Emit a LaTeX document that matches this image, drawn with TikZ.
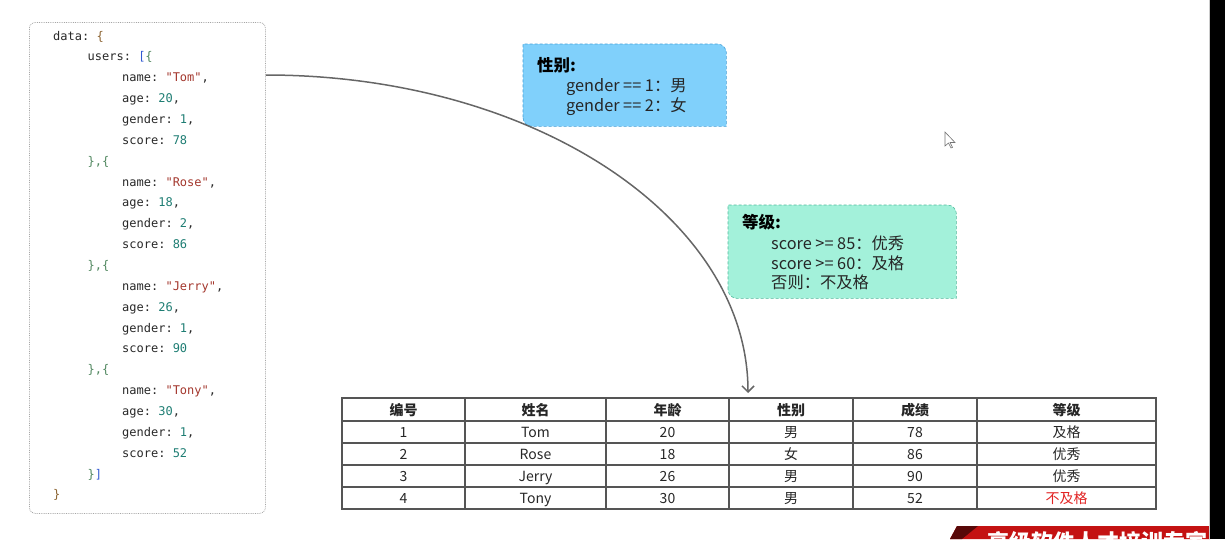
\documentclass[tikz,border=0pt]{standalone}
\usepackage{fontspec}
\setmainfont{Noto Sans CJK SC}
\setmonofont{DejaVu Sans Mono}
\usepackage{tikz}
\usetikzlibrary{positioning,arrows.meta,calc}

\definecolor{keygray}{RGB}{40,40,40}
\definecolor{strred}{RGB}{163,55,45}
\definecolor{numteal}{RGB}{30,125,115}
\definecolor{brbrown}{RGB}{140,100,50}
\definecolor{brgreen}{RGB}{80,135,95}
\definecolor{brblue}{RGB}{50,90,210}
\definecolor{sexblue}{RGB}{128,208,251}
\definecolor{sexedge}{RGB}{70,160,215}
\definecolor{gradegreen}{RGB}{163,241,218}
\definecolor{gradeedge}{RGB}{80,185,155}
\definecolor{gridgray}{RGB}{85,85,85}
\definecolor{failred}{RGB}{225,35,35}
\definecolor{bannerred}{RGB}{196,18,18}

\newcommand{\jkey}[1]{\textcolor{keygray}{#1}}
\newcommand{\jstr}[1]{\textcolor{strred}{#1}}
\newcommand{\jnum}[1]{\textcolor{numteal}{#1}}
\newcommand{\jbrown}[1]{\textcolor{brbrown}{#1}}
\newcommand{\jgreen}[1]{\textcolor{brgreen}{#1}}
\newcommand{\jblue}[1]{\textcolor{brblue}{#1}}

\tikzstyle{codebox} = [draw=gray!70, densely dotted, line width=0.8pt,
    rectangle, rounded corners=6pt, inner sep=0pt]
\tikzstyle{codeline} = [anchor=base west, inner sep=0pt,
    font=\fontsize{12}{14}\selectfont\ttfamily]
\tikzstyle{tiphead} = [anchor=west, inner sep=0pt,
    font=\fontsize{16.5}{19}\selectfont\bfseries]
\tikzstyle{tiprule} = [anchor=west, inner sep=0pt, align=left, text=black!85,
    font=\fontsize{16.3}{19.5}\selectfont]
\tikzstyle{grid} = [draw=gridgray, line width=1.1pt]
\tikzstyle{cell} = [inner sep=0pt, text height=10.5pt, text depth=3pt,
    text=black!85, font=\fontsize{14}{16}\selectfont]
\tikzstyle{flow} = [draw=black!60, line width=1.5pt,
    -{Straight Barb[length=6pt,width=12pt]}]

\begin{document}
\begin{tikzpicture}[x=1pt,y=-1pt]
\useasboundingbox (0,0) rectangle (1225,539);

% json data
\node [codebox, minimum width=236, minimum height=491, anchor=north west] (code) at (29,22) {};
\foreach \ind/\txt [count=\i] in {
    0/{\jkey{data:} \jbrown{\{}},
    1/{\jkey{users:} \jblue{[}\jgreen{\{}},
    2/{\jkey{name:} \jstr{"Tom"}\jkey{,}},
    2/{\jkey{age:} \jnum{20}\jkey{,}},
    2/{\jkey{gender:} \jnum{1}\jkey{,}},
    2/{\jkey{score:} \jnum{78}},
    1/{\jgreen{\},\{}},
    2/{\jkey{name:} \jstr{"Rose"}\jkey{,}},
    2/{\jkey{age:} \jnum{18}\jkey{,}},
    2/{\jkey{gender:} \jnum{2}\jkey{,}},
    2/{\jkey{score:} \jnum{86}},
    1/{\jgreen{\},\{}},
    2/{\jkey{name:} \jstr{"Jerry"}\jkey{,}},
    2/{\jkey{age:} \jnum{26}\jkey{,}},
    2/{\jkey{gender:} \jnum{1}\jkey{,}},
    2/{\jkey{score:} \jnum{90}},
    1/{\jgreen{\},\{}},
    2/{\jkey{name:} \jstr{"Tony"}\jkey{,}},
    2/{\jkey{age:} \jnum{30}\jkey{,}},
    2/{\jkey{gender:} \jnum{1}\jkey{,}},
    2/{\jkey{score:} \jnum{52}},
    1/{\jgreen{\}}\jblue{]}},
    0/{\jbrown{\}}}}
  \node [codeline] (line\i) at (53+34.5*\ind, 40+20.86*\i-20.86) {\txt};

% gender rule
\node [minimum width=203, minimum height=82, anchor=north west, inner sep=0pt] (sexbox) at (523,44) {};
\path [fill=sexblue, draw=sexedge, densely dashed, line width=0.6pt]
    (sexbox.south west) [sharp corners] -- (sexbox.north west) [rounded corners=9pt]
    -- (sexbox.north east) [sharp corners] -- (sexbox.south east) [rounded corners=9pt] -- cycle;
\node [tiphead] (sextitle) at (537,65) {性别:};
\node [tiprule] (sexrule) at (566,97) {gender == 1：男\\gender == 2：女};

% grade rule
\node [minimum width=228, minimum height=93, anchor=north west, inner sep=0pt] (gradebox) at (728,205) {};
\path [fill=gradegreen, draw=gradeedge, densely dashed, line width=0.6pt]
    (gradebox.south west) [sharp corners] -- (gradebox.north west) [rounded corners=9pt]
    -- (gradebox.north east) [sharp corners] -- (gradebox.south east) [rounded corners=9pt] -- cycle;
\node [tiphead] (gradetitle) at (742,222) {等级:};
\node [tiprule] (graderule) at (771,263) {score >= 85：优秀\\score >= 60：及格\\否则：不及格};

% result table
\draw [grid] (342,398) rectangle (1156,509);
\foreach \y in {421,443,465,487}
  \draw [grid] (342,\y) -- (1156,\y);
\foreach \x in {465,606,729,853,977}
  \draw [grid] (\x,398) -- (\x,509);
\foreach \cells [count=\r] in {{编号,姓名,年龄,性别,成绩,等级},
    {1,Tom,20,男,78,及格},{2,Rose,18,女,86,优秀},
    {3,Jerry,26,男,90,优秀},{4,Tony,30,男,52,\textcolor{failred}{不及格}}}
  \foreach \t [count=\c] in \cells {
    \pgfmathsetmacro\cx{{403.5,535.5,667.5,791,915,1066.5}[\c-1]}
    \node [cell] (cell-\r-\c) at (\cx, 411.5+22*\r-22) {\ifnum\r=1 \bfseries\fi\t};
  }

% arrow from data to table
\coordinate (from) at ($(code.north east)+(0,53)$);
\coordinate (arrowend) at (748,393);
\draw [flow] (from) .. controls +(267,0) and +(0,-176) .. (arrowend);

% pointer
\draw [black!55, fill=white, line width=0.6pt] (945,132) -- (945,146) -- (948.5,143)
    -- (951,148) -- (952.5,147.3) -- (950,142.5) -- (955,142.5) -- cycle;

% banner and side strip
\fill [bannerred] (957,526) -- (1210,526) -- (1210,539) -- (950,539) -- cycle;
\fill [black!55!bannerred] (957,526) -- (978,526) -- (962,539) -- (950,539) -- cycle;
\node [text=white, font=\fontsize{22}{24}\selectfont\bfseries, inner sep=0pt] (slogan) at (1097,542) {高级软件人才培训专家};
\fill [black] (1210,0) rectangle (1225,539);
\draw [black!20, line width=0.6pt] (1209.5,0) -- (1209.5,539);
\end{tikzpicture}
\end{document}
